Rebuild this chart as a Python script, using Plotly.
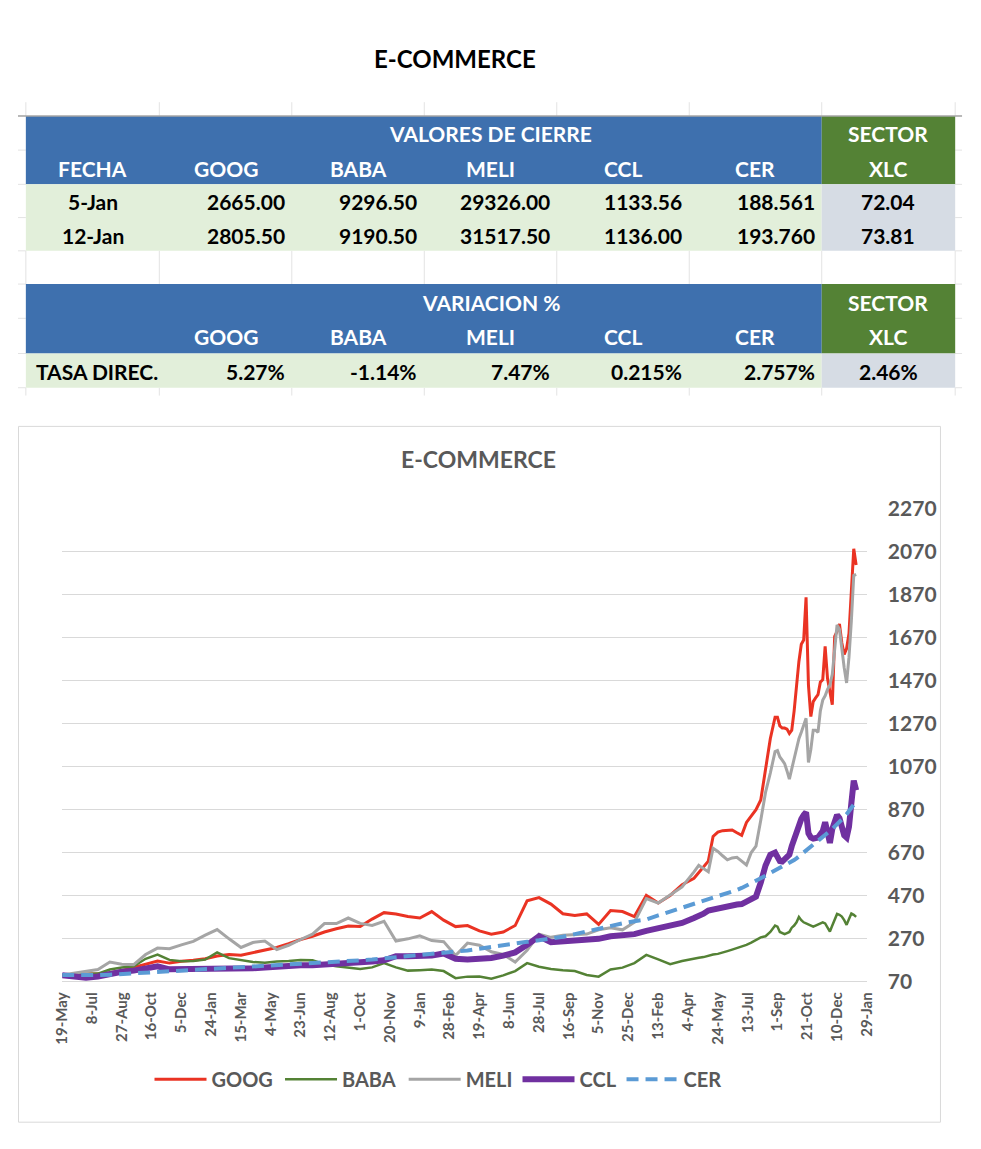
import plotly.graph_objects as go
import pandas as pd

# ---------------- data ----------------
START = "2020-05-19"
# sampling days after START (chart is base 100 at START)
DAYS = [0, 20, 40, 60, 80, 100, 120, 140, 160, 180,
        200, 220, 240, 260, 280, 300, 320, 340, 360, 380,
        400, 420, 440, 460, 480, 500, 520, 540, 560, 580,
        600, 620, 640, 660, 680, 700, 720, 740, 760, 780,
        800, 820, 840, 860, 880, 900, 920, 940, 960, 980,
        1000, 1020, 1040, 1060,
        1068, 1076, 1084, 1092, 1100, 1108, 1116, 1124, 1132, 1140, 1148, 1156, 1164, 1172, 1180, 1188,
        1196, 1200, 1204, 1208, 1212, 1216, 1220, 1224, 1228, 1232,
        1236, 1240, 1244, 1248, 1252, 1256, 1260, 1264, 1268, 1272,
        1276, 1280, 1284, 1288, 1292, 1296, 1300, 1304, 1308, 1312,
        1316, 1320, 1324, 1328, 1332]

GOOG = [100, 101, 103, 105, 110, 120, 135, 150, 165, 155,
        164, 168, 175, 188, 195, 192, 205, 217, 228, 245,
        265, 280, 300, 315, 328, 325, 360, 390, 384, 372,
        365, 395, 355, 325, 330, 305, 290, 300, 330, 445,
        460, 430, 385, 377, 384, 335, 400, 395, 372, 470,
        435, 470, 520, 550,
        575, 605, 630, 745, 765, 772, 775, 775, 762, 750, 810, 840, 870, 915, 1060, 1200,
        1300, 1300, 1260, 1250, 1250, 1245, 1225, 1240, 1330, 1450,
        1560, 1640, 1660, 1859, 1450, 1303, 1373, 1390, 1405, 1464,
        1475, 1630, 1480, 1420, 1358, 1677, 1700, 1735, 1646, 1593,
        1620, 1690, 1900, 2085, 2009]

BABA = [100, 102, 104, 106, 125, 135, 140, 175, 195, 170,
        164, 165, 172, 205, 178, 170, 160, 157, 163, 165,
        170, 168, 150, 140, 134, 128, 135, 155, 135, 120,
        122, 125, 118, 85, 92, 93, 82, 98, 118, 155,
        138, 128, 122, 118, 100, 92, 125, 134, 155, 193,
        172, 150, 165, 178,
        180, 183, 190, 195, 198, 203, 211, 218, 225, 232, 240, 250, 262, 275, 280, 300,
        330, 325, 300, 295, 290, 295, 300, 320, 330, 345,
        370, 355, 345, 340, 335, 330, 325, 330, 335, 340,
        345, 340, 320, 302, 330, 360, 384, 380, 372, 355,
        333, 360, 386, 380, 370]

MELI = [100, 108, 116, 125, 160, 150, 148, 195, 225, 222,
        240, 256, 285, 311, 268, 228, 251, 258, 218, 238,
        265, 290, 339, 339, 365, 340, 330, 350, 258, 268,
        282, 260, 255, 190, 248, 238, 208, 195, 160, 215,
        290, 275, 285, 287, 290, 310, 320, 310, 345, 455,
        435, 472, 510, 580,
        610, 595, 580, 690, 675, 655, 636, 645, 648, 630, 612, 670, 700, 820, 950, 1040,
        1140, 1145, 1115, 1100, 1084, 1050, 1012, 1060, 1110, 1150,
        1200, 1230, 1265, 1295, 1090, 1150, 1240, 1240, 1230, 1330,
        1380, 1400, 1430, 1450, 1500, 1620, 1730, 1710, 1610, 1530,
        1460, 1580, 1750, 1960, 1965]

CCL = [99, 92, 87, 93, 105, 115, 120, 132, 140, 126,
       126, 126, 128, 129, 126, 128, 131, 135, 140, 143,
       145, 145, 148, 149, 151, 155, 162, 168, 187, 187,
       187, 190, 200, 175, 172, 174, 179, 190, 205, 240,
       280, 252, 255, 256, 262, 268, 280, 287, 290, 305,
       315, 325, 342, 365,
       372, 385, 400, 405, 412, 420, 424, 425, 428, 430, 440, 450, 465, 530, 610, 660,
       670, 650, 630, 628, 640, 655, 660, 700, 735, 760,
       790, 826, 845, 857, 760, 740, 735, 735, 740, 755,
       770, 811, 760, 715, 780, 810, 845, 830, 785, 750,
       740, 790, 900, 1005, 960]

CER = [100, 99, 98, 99, 101, 104, 107, 110, 114, 116,
       119, 122, 126, 128, 131, 134, 137, 140, 144, 148,
       151, 154, 158, 162, 165, 168, 172, 177, 181, 186,
       190, 195, 201, 206, 214, 222, 231, 240, 248, 254,
       261, 268, 278, 290, 303, 315, 328, 340, 350, 358,
       377, 395, 412, 428,
       435, 442, 450, 458, 465, 473, 480, 488, 496, 505, 515, 525, 537, 550, 562, 575,
       590, 595, 600, 605, 610, 615, 620, 627, 635, 643,
       652, 660, 668, 677, 686, 695, 703, 712, 720, 730,
       740, 750, 760, 770, 780, 790, 800, 812, 823, 835,
       848, 862, 876, 892, 908]

TICK_LABELS = ["19-May", "8-Jul", "27-Aug", "16-Oct", "5-Dec", "24-Jan", "15-Mar",
               "4-May", "23-Jun", "12-Aug", "1-Oct", "20-Nov", "9-Jan", "28-Feb",
               "19-Apr", "8-Jun", "28-Jul", "16-Sep", "5-Nov", "25-Dec", "13-Feb",
               "4-Apr", "24-May", "13-Jul", "1-Sep", "21-Oct", "10-Dec", "29-Jan"]
TICK_STEP_DAYS = 50
Y_TICKS = [70, 270, 470, 670, 870, 1070, 1270, 1470, 1670, 1870, 2070, 2270]

# table data
TICKERS = ["GOOG", "BABA", "MELI", "CCL", "CER"]
CLOSE_DATES = ["5-Jan", "12-Jan"]
CLOSE_GOOG = ["2665.00", "2805.50"]
CLOSE_BABA = ["9296.50", "9190.50"]
CLOSE_MELI = ["29326.00", "31517.50"]
CLOSE_CCL = ["1133.56", "1136.00"]
CLOSE_CER = ["188.561", "193.760"]
CLOSE_XLC = ["72.04", "73.81"]
VARIATION = ["5.27%", "-1.14%", "7.47%", "0.215%", "2.757%"]
VARIATION_XLC = "2.46%"

# ---------------- helpers (page pixels -> paper) ----------------
OFF = 8                      # default body margin of the html page
W, H = 981 - 2 * OFF, 1149 - 2 * OFF


def px(x):
    return (x - OFF) / W


def py(y):
    return 1 - (y - OFF) / H


FONT = "Lato"
BLUE = "#3E70AE"
DKGREEN = "#548235"
LTGREEN = "#E2EFDA"
LTGRAY = "#D6DCE4"
GRID = "#D9D9D9"
TXT = "#595959"

x_dates = pd.to_datetime(START) + pd.to_timedelta(DAYS, unit="D")
tick_vals = [pd.to_datetime(START) + pd.Timedelta(days=TICK_STEP_DAYS * i) for i in range(len(TICK_LABELS))]

fig = go.Figure()
series = [("GOOG", GOOG, dict(color="#EA3323", width=3), "legend", 148),
          ("BABA", BABA, dict(color="#548235", width=2.5), "legend2", 281),
          ("MELI", MELI, dict(color="#A5A5A5", width=3), "legend3", 407),
          ("CCL", CCL, dict(color="#7030A0", width=6), "legend4", 523),
          ("CER", CER, dict(color="#5B9BD5", width=4, dash="12px,7px"), "legend5", 629)]
legend_layout = {}
for name, vals, line, lg, lx in series:
    fig.add_trace(go.Scatter(x=x_dates, y=vals, mode="lines", name=name, line=line,
                             legend=lg, hoverinfo="x+y+name"))
    legend_layout[lg] = dict(orientation="h", x=px(lx - 6), y=py(1089), xanchor="left", yanchor="middle",
                             font=dict(family=FONT, size=20, color=TXT, weight="bold"),
                             bgcolor="rgba(0,0,0,0)", itemwidth=52)

shapes = []
annos = []


def rect(x0, y0, x1, y1, fill, line=None, layer="below"):
    d = dict(type="rect", xref="paper", yref="paper", x0=px(x0), x1=px(x1), y0=py(y1), y1=py(y0),
             fillcolor=fill, layer=layer, line=dict(width=0))
    if line:
        d["line"] = line
    shapes.append(d)


def hline(x0, x1, y, color, width=1):
    shapes.append(dict(type="line", xref="paper", yref="paper", x0=px(x0), x1=px(x1), y0=py(y), y1=py(y),
                       line=dict(color=color, width=width), layer="below"))


def vline(x, y0, y1, color, width=1):
    shapes.append(dict(type="line", xref="paper", yref="paper", x0=px(x), x1=px(x), y0=py(y0), y1=py(y1),
                       line=dict(color=color, width=width), layer="below"))


def text(x, y, s, size=21, color="black", anchor="center", bold=True):
    annos.append(dict(xref="paper", yref="paper", x=px(x), y=py(y), text=s, showarrow=False,
                      xanchor=anchor, yanchor="middle",
                      font=dict(family=FONT, size=size, color=color, weight="bold" if bold else "normal")))


# ---- table ----
COLS = [16, 152, 287, 422, 557, 692, 827, 963]
ROWS = [104, 139, 174, 208, 242, 276, 311, 347, 382]
EXG = "#E3E3E3"
for c in COLS:
    vline(c, 90, 104, EXG)
    vline(c, 242, 276, EXG)
    vline(c, 382, 390, EXG)
for r in ROWS:
    hline(8, 16, r, EXG)
    hline(963, 970, r, EXG)
rect(COLS[0], ROWS[0], COLS[6], ROWS[2], BLUE)
rect(COLS[6], ROWS[0], COLS[7], ROWS[2], DKGREEN)
rect(COLS[0], ROWS[2], COLS[6], ROWS[4], LTGREEN)
rect(COLS[6], ROWS[2], COLS[7], ROWS[4], LTGRAY)
rect(COLS[0], ROWS[5], COLS[6], ROWS[7], BLUE)
rect(COLS[6], ROWS[5], COLS[7], ROWS[7], DKGREEN)
rect(COLS[0], ROWS[7], COLS[6], ROWS[8], LTGREEN)
rect(COLS[6], ROWS[7], COLS[7], ROWS[8], LTGRAY)
hline(8, 970, 104, "#A6A6A6", 1.5)


def cc(i):
    return (COLS[i] + COLS[i + 1]) / 2


def rc(j):
    return (ROWS[j] + ROWS[j + 1]) / 2 + 1


text(453, 45, "E-COMMERCE", size=24)
text((COLS[1] + COLS[6]) / 2, rc(0), "VALORES DE CIERRE", color="white")
text(cc(6), rc(0), "SECTOR", color="white")
text(cc(0), rc(1), "FECHA", color="white")
for i, t in enumerate(TICKERS):
    text(cc(i + 1), rc(1), t, color="white")
text(cc(6), rc(1), "XLC", color="white")
cols_close = [CLOSE_GOOG, CLOSE_BABA, CLOSE_MELI, CLOSE_CCL, CLOSE_CER]
for k in range(2):
    text(cc(0), rc(2 + k), CLOSE_DATES[k])
    for i, col in enumerate(cols_close):
        text(COLS[i + 2] - 5, rc(2 + k), col[k], anchor="right")
    text(cc(6), rc(2 + k), CLOSE_XLC[k])
text((COLS[1] + COLS[6]) / 2, rc(5), "VARIACION %", color="white")
text(cc(6), rc(5), "SECTOR", color="white")
for i, t in enumerate(TICKERS):
    text(cc(i + 1), rc(6), t, color="white")
text(cc(6), rc(6), "XLC", color="white")
text(24, rc(7), "TASA DIREC.", anchor="left")
for i, v in enumerate(VARIATION):
    text(COLS[i + 2] - 5, rc(7), v, anchor="right")
text(cc(6), rc(7), VARIATION_XLC)

# ---- chart box ----
rect(8.5, 421.5, 948, 1133, "white", line=dict(color=GRID, width=1))
text(477, 455, "E-COMMERCE", size=23, color=TXT)

fig.update_layout(
    width=W, height=H, margin=dict(l=0, r=0, t=0, b=0),
    paper_bgcolor="white", plot_bgcolor="rgba(0,0,0,0)",
    shapes=shapes, annotations=annos,
    font=dict(family=FONT, color=TXT),
    showlegend=True,
    xaxis=dict(domain=[px(53), px(873)], type="date",
               range=[tick_vals[0], tick_vals[-1]],
               tickvals=tick_vals, ticktext=TICK_LABELS, tickangle=-90,
               tickfont=dict(family=FONT, size=15, color=TXT, weight="bold"),
               showgrid=False, zeroline=False, showline=True, linecolor=GRID, linewidth=1,
               ticks="", ticklabelstandoff=4),
    yaxis=dict(domain=[py(989), py(506)], side="right", range=[70, 2270],
               tickvals=Y_TICKS,
               tickfont=dict(family=FONT, size=21, color=TXT, weight="bold"),
               showgrid=True, gridcolor=GRID, gridwidth=1, zeroline=False, showline=False,
               ticks="", ticklabelstandoff=20),
    **legend_layout,
)

fig.write_html("out.html")
